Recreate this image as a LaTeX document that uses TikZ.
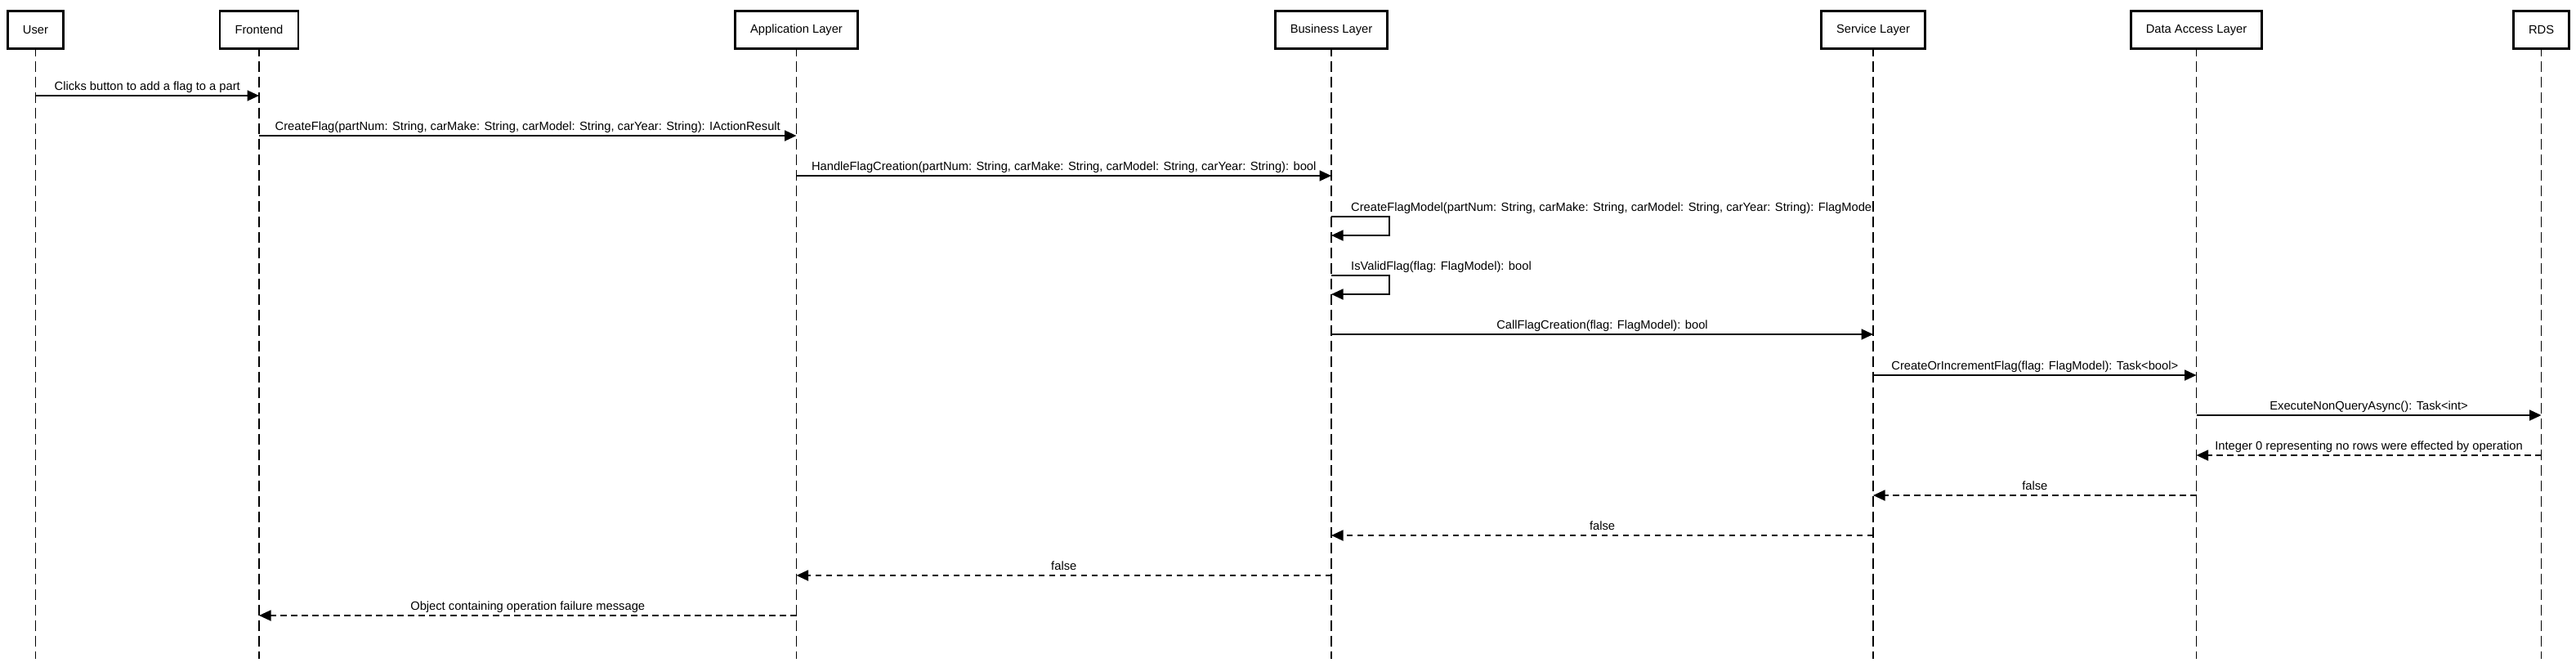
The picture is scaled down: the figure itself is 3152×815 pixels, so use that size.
\documentclass[tikz,border=0pt]{standalone}
\usepackage{fontspec}
\setmainfont{Liberation Sans}
\usetikzlibrary{arrows.meta}
\begin{document}
\begin{tikzpicture}[x=1pt,y=-1pt,
  font=\fontsize{14.7}{17}\selectfont,
  actor/.style={draw=black, line width=2.8pt, fill=white, inner xsep=18.5pt, inner ysep=0pt,
                minimum height=46.2pt, outer sep=0pt},
  lifeline/.style={draw=black, line width=1.7pt, dash pattern=on 13pt off 6pt},
  msg/.style={draw=black, line width=1.8pt, -{Triangle[length=14.5pt,width=13pt]}},
  ret/.style={msg, dash pattern=on 7.5pt off 5.5pt},
  lbl/.style={midway, anchor=base, yshift=7pt, inner sep=0pt},
  slbl/.style={anchor=base west, inner sep=0pt}
]
\useasboundingbox (0,0) rectangle (3152,815);
\fill[white] (0,0) rectangle (3152,815);

% lifeline ends
\coordinate (userEnd) at (43.5,806);
\coordinate (frontEnd) at (317,806);
\coordinate (appEnd) at (974.5,806);
\coordinate (busEnd) at (1629,806);
\coordinate (servEnd) at (2292,806);
\coordinate (dalEnd) at (2687.5,806);
\coordinate (rdsEnd) at (3109.5,806);

% lifelines
\draw[lifeline] (43.5,36.5) -- (userEnd);
\draw[lifeline] (317,36.5) -- (frontEnd);
\draw[lifeline] (974.5,36.5) -- (appEnd);
\draw[lifeline] (1629,36.5) -- (busEnd);
\draw[lifeline] (2292,36.5) -- (servEnd);
\draw[lifeline] (2687.5,36.5) -- (dalEnd);
\draw[lifeline] (3109.5,36.5) -- (rdsEnd);

% participants
\node[actor] (user) at (43.5,36.5) {User};
\node[actor] (front) at (317,36.5) {Frontend};
\node[actor] (app) at (974.5,36.5) {Application Layer};
\node[actor] (bus) at (1629,36.5) {Business Layer};
\node[actor] (serv) at (2292,36.5) {Service Layer};
\node[actor] (dal) at (2687.5,36.5) {Data Access Layer};
\node[actor] (rds) at (3109.5,36.5) {RDS};

% messages
\draw[msg] (user |- 0,117) -- (front |- 0,117)
  node[lbl] {Clicks button to add a flag to a part};
\draw[msg] (front |- 0,166) -- (app |- 0,166)
  node[lbl] {CreateFlag(partNum: String, carMake: String, carModel: String, carYear: String): IActionResult};
\draw[msg] (app |- 0,215) -- (bus |- 0,215)
  node[lbl] {HandleFlagCreation(partNum: String, carMake: String, carModel: String, carYear: String): bool};

% self messages
\draw[msg] (bus |- 0,265) -- ++(71,0) -- ++(0,23) -- (bus |- 0,288);
\node[slbl] (selfA) at ([xshift=24pt]bus |- 0,258) {CreateFlagModel(partNum: String, carMake: String, carModel: String, carYear: String): FlagModel};
\draw[msg] (bus |- 0,337) -- ++(71,0) -- ++(0,23) -- (bus |- 0,360);
\node[slbl] (selfB) at ([xshift=24pt]bus |- 0,330) {IsValidFlag(flag: FlagModel): bool};

\draw[msg] (bus |- 0,409) -- (serv |- 0,409)
  node[lbl] {CallFlagCreation(flag: FlagModel): bool};
\draw[msg] (serv |- 0,459) -- (dal |- 0,459)
  node[lbl] {CreateOrIncrementFlag(flag: FlagModel): Task<bool>};
\draw[msg] (dal |- 0,508) -- (rds |- 0,508)
  node[lbl] {ExecuteNonQueryAsync(): Task<int>};

% returns
\draw[ret] (rds |- 0,557) -- (dal |- 0,557)
  node[lbl] {Integer 0 representing no rows were effected by operation};
\draw[ret] (dal |- 0,606) -- (serv |- 0,606)
  node[lbl] {false};
\draw[ret] (serv |- 0,655) -- (bus |- 0,655)
  node[lbl] {false};
\draw[ret] (bus |- 0,704) -- (app |- 0,704)
  node[lbl] {false};
\draw[ret] (app |- 0,753) -- (front |- 0,753)
  node[lbl] {Object containing operation failure message};
\end{tikzpicture}
\end{document}
